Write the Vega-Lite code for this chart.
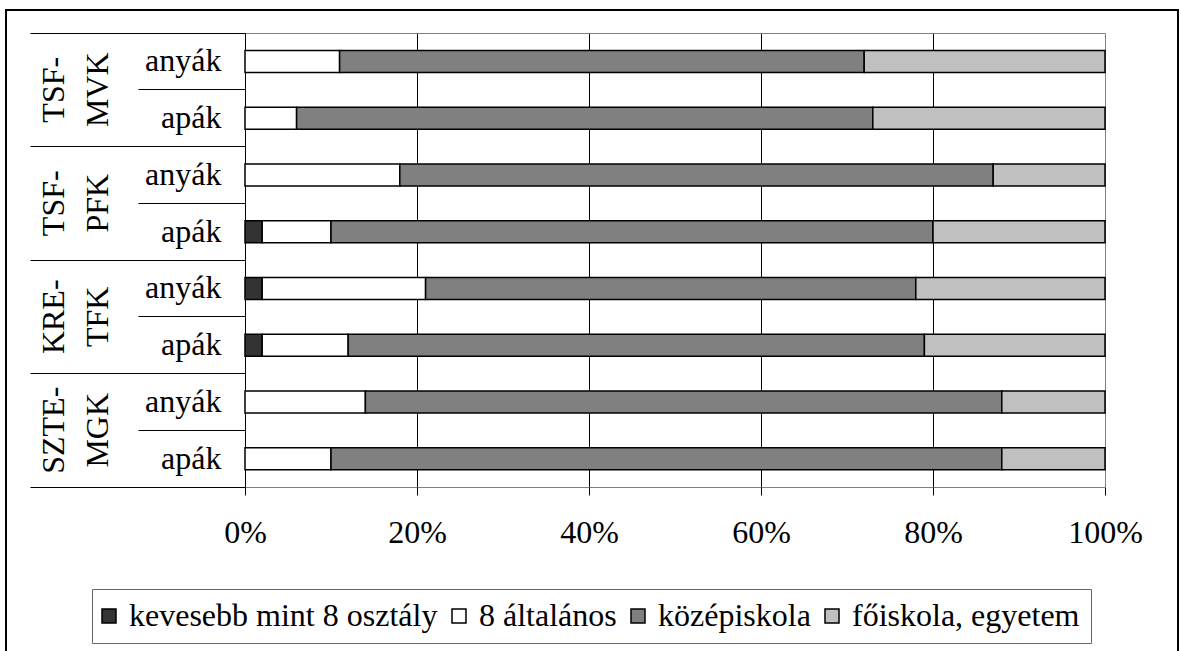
{
  "$schema": "https://vega.github.io/schema/vega-lite/v6.json",
  "autosize": {"type": "none"},
  "padding": {"left": 6, "top": 10, "right": 3, "bottom": 0},
  "width": 1172,
  "height": 643,
  "background": "white",
  "config": {"font": "Liberation Serif", "view": {"stroke": "black", "strokeWidth": 2}},
  "data": {"values": [
    {"kar": "TSF-MVK", "szulo": "anyák", "vegzettseg": "8 általános", "ertek": 11},
    {"kar": "TSF-MVK", "szulo": "anyák", "vegzettseg": "középiskola", "ertek": 61},
    {"kar": "TSF-MVK", "szulo": "anyák", "vegzettseg": "főiskola, egyetem", "ertek": 28},
    {"kar": "TSF-MVK", "szulo": "apák", "vegzettseg": "8 általános", "ertek": 6},
    {"kar": "TSF-MVK", "szulo": "apák", "vegzettseg": "középiskola", "ertek": 67},
    {"kar": "TSF-MVK", "szulo": "apák", "vegzettseg": "főiskola, egyetem", "ertek": 27},
    {"kar": "TSF-PFK", "szulo": "anyák", "vegzettseg": "8 általános", "ertek": 18},
    {"kar": "TSF-PFK", "szulo": "anyák", "vegzettseg": "középiskola", "ertek": 69},
    {"kar": "TSF-PFK", "szulo": "anyák", "vegzettseg": "főiskola, egyetem", "ertek": 13},
    {"kar": "TSF-PFK", "szulo": "apák", "vegzettseg": "kevesebb mint 8 osztály", "ertek": 2},
    {"kar": "TSF-PFK", "szulo": "apák", "vegzettseg": "8 általános", "ertek": 8},
    {"kar": "TSF-PFK", "szulo": "apák", "vegzettseg": "középiskola", "ertek": 70},
    {"kar": "TSF-PFK", "szulo": "apák", "vegzettseg": "főiskola, egyetem", "ertek": 20},
    {"kar": "KRE-TFK", "szulo": "anyák", "vegzettseg": "kevesebb mint 8 osztály", "ertek": 2},
    {"kar": "KRE-TFK", "szulo": "anyák", "vegzettseg": "8 általános", "ertek": 19},
    {"kar": "KRE-TFK", "szulo": "anyák", "vegzettseg": "középiskola", "ertek": 57},
    {"kar": "KRE-TFK", "szulo": "anyák", "vegzettseg": "főiskola, egyetem", "ertek": 22},
    {"kar": "KRE-TFK", "szulo": "apák", "vegzettseg": "kevesebb mint 8 osztály", "ertek": 2},
    {"kar": "KRE-TFK", "szulo": "apák", "vegzettseg": "8 általános", "ertek": 10},
    {"kar": "KRE-TFK", "szulo": "apák", "vegzettseg": "középiskola", "ertek": 67},
    {"kar": "KRE-TFK", "szulo": "apák", "vegzettseg": "főiskola, egyetem", "ertek": 21},
    {"kar": "SZTE-MGK", "szulo": "anyák", "vegzettseg": "8 általános", "ertek": 14},
    {"kar": "SZTE-MGK", "szulo": "anyák", "vegzettseg": "középiskola", "ertek": 74},
    {"kar": "SZTE-MGK", "szulo": "anyák", "vegzettseg": "főiskola, egyetem", "ertek": 12},
    {"kar": "SZTE-MGK", "szulo": "apák", "vegzettseg": "8 általános", "ertek": 10},
    {"kar": "SZTE-MGK", "szulo": "apák", "vegzettseg": "középiskola", "ertek": 78},
    {"kar": "SZTE-MGK", "szulo": "apák", "vegzettseg": "főiskola, egyetem", "ertek": 12}
  ]},
  "transform": [
    {"calculate": "datum.kar + '|' + datum.szulo", "as": "sor"},
    {"calculate": "indexof(['kevesebb mint 8 osztály','8 általános','középiskola','főiskola, egyetem'], datum.vegzettseg)", "as": "rend"}
  ],
  "layer": [
    {
      "mark": {"type": "bar", "height": 22, "stroke": "black", "strokeWidth": 1.5},
      "encoding": {
        "x": {
          "field": "ertek", "type": "quantitative", "stack": "zero",
          "scale": {"domain": [0, 100], "range": [239, 1099], "nice": false},
          "axis": {
            "orient": "bottom", "offset": -166, "values": [0, 20, 40, 60, 80, 100],
            "labelExpr": "datum.value + '%'", "title": null, "grid": false,
            "tickColor": "black", "tickSize": 8, "tickWidth": 1,
            "domainColor": "#808080", "domainWidth": 1,
            "labelFontSize": 32, "labelColor": "black", "labelPadding": 22, "labelFont": "Liberation Serif", "labelFlush": false
          }
        },
        "y": {
          "field": "sor", "type": "nominal",
          "scale": {"domain": ["TSF-MVK|anyák", "TSF-MVK|apák", "TSF-PFK|anyák", "TSF-PFK|apák", "KRE-TFK|anyák", "KRE-TFK|apák", "SZTE-MGK|anyák", "SZTE-MGK|apák"], "range": [23, 477], "paddingInner": 0, "paddingOuter": 0},
          "axis": {
            "orient": "left", "offset": -239, "title": null,
            "bandPosition": 0, "labelOffset": 0,
            "tickSize": 107, "tickColor": "black", "tickWidth": 1,
            "domainColor": "black", "domainWidth": 1,
            "labelExpr": "split(datum.value, '|')[1]",
            "labelFontSize": 32, "labelColor": "black", "labelAlign": "right", "labelBaseline": "middle",
            "labelPadding": -83, "labelFont": "Liberation Serif"
          }
        },
        "color": {
          "field": "vegzettseg", "type": "nominal",
          "scale": {"domain": ["kevesebb mint 8 osztály", "8 általános", "középiskola", "főiskola, egyetem"], "range": ["#333333", "#ffffff", "#808080", "#c0c0c0"]},
          "legend": {
            "orient": "none", "legendX": 86, "legendY": 579, "direction": "horizontal", "columns": 4, "title": null,
            "symbolType": "square", "symbolSize": 196, "symbolStrokeColor": "black", "symbolStrokeWidth": 1.5, "symbolOpacity": 1,
            "symbolOffset": -10,
            "labelFontSize": 32, "labelFont": "Liberation Serif", "labelColor": "black", "labelLimit": 600, "labelOffset": 4,
            "columnPadding": 11, "padding": 11, "strokeColor": "#666666", "fillColor": "white", "cornerRadius": 0
          }
        },
        "order": {"field": "rend", "type": "quantitative"}
      }
    },
    {
      "mark": {"type": "point", "opacity": 0},
      "encoding": {
        "x": {
          "field": "ertek", "type": "quantitative",
          "scale": {"domain": [0, 100], "range": [239, 1099], "nice": false},
          "axis": {
            "orient": "top", "offset": -23, "values": [20, 40, 60, 80, 100], "title": null,
            "labels": false, "grid": false,
            "tickSize": -454, "tickWidth": 1,
            "tickColor": {"condition": {"test": "datum.value == 100", "value": "#808080"}, "value": "black"},
            "domainColor": "#808080", "domainWidth": 1
          }
        },
        "y": {
          "field": "sor", "type": "nominal",
          "scale": {"domain": ["TSF-MVK|anyák", "TSF-MVK|apák", "TSF-PFK|anyák", "TSF-PFK|apák", "KRE-TFK|anyák", "KRE-TFK|apák", "SZTE-MGK|anyák", "SZTE-MGK|apák"], "range": [23, 477], "paddingInner": 0, "paddingOuter": 0},
          "axis": {
            "orient": "left", "offset": -239, "title": null,
            "values": ["TSF-MVK|apák", "TSF-PFK|apák", "KRE-TFK|apák", "SZTE-MGK|apák"],
            "bandPosition": 1, "labelOffset": -28.375,
            "tickSize": 215, "tickColor": "black", "tickWidth": 1, "domain": false,
            "labelExpr": "[slice(split(datum.value, '|')[0], 0, indexof(datum.value, '-') + 1), slice(split(datum.value, '|')[0], indexof(datum.value, '-') + 1)]",
            "labelAngle": 270, "labelAlign": "center", "labelBaseline": "middle", "labelLineHeight": 44,
            "labelPadding": -23, "labelFontSize": 32, "labelColor": "black", "labelFont": "Liberation Serif"
          }
        }
      }
    },
    {
      "mark": {"type": "point", "opacity": 0},
      "encoding": {
        "y": {
          "field": "sor", "type": "nominal",
          "scale": {"domain": ["TSF-MVK|anyák", "TSF-MVK|apák", "TSF-PFK|anyák", "TSF-PFK|apák", "KRE-TFK|anyák", "KRE-TFK|apák", "SZTE-MGK|anyák", "SZTE-MGK|apák"], "range": [23, 477], "paddingInner": 0, "paddingOuter": 0},
          "axis": {
            "orient": "left", "offset": -239, "title": null,
            "values": ["TSF-MVK|anyák"], "bandPosition": 0,
            "tickSize": 215, "tickColor": "black", "tickWidth": 1,
            "labels": false, "domain": false, "grid": false
          }
        }
      }
    }
  ],
  "resolve": {"axis": {"y": "independent", "x": "independent"}}
}
